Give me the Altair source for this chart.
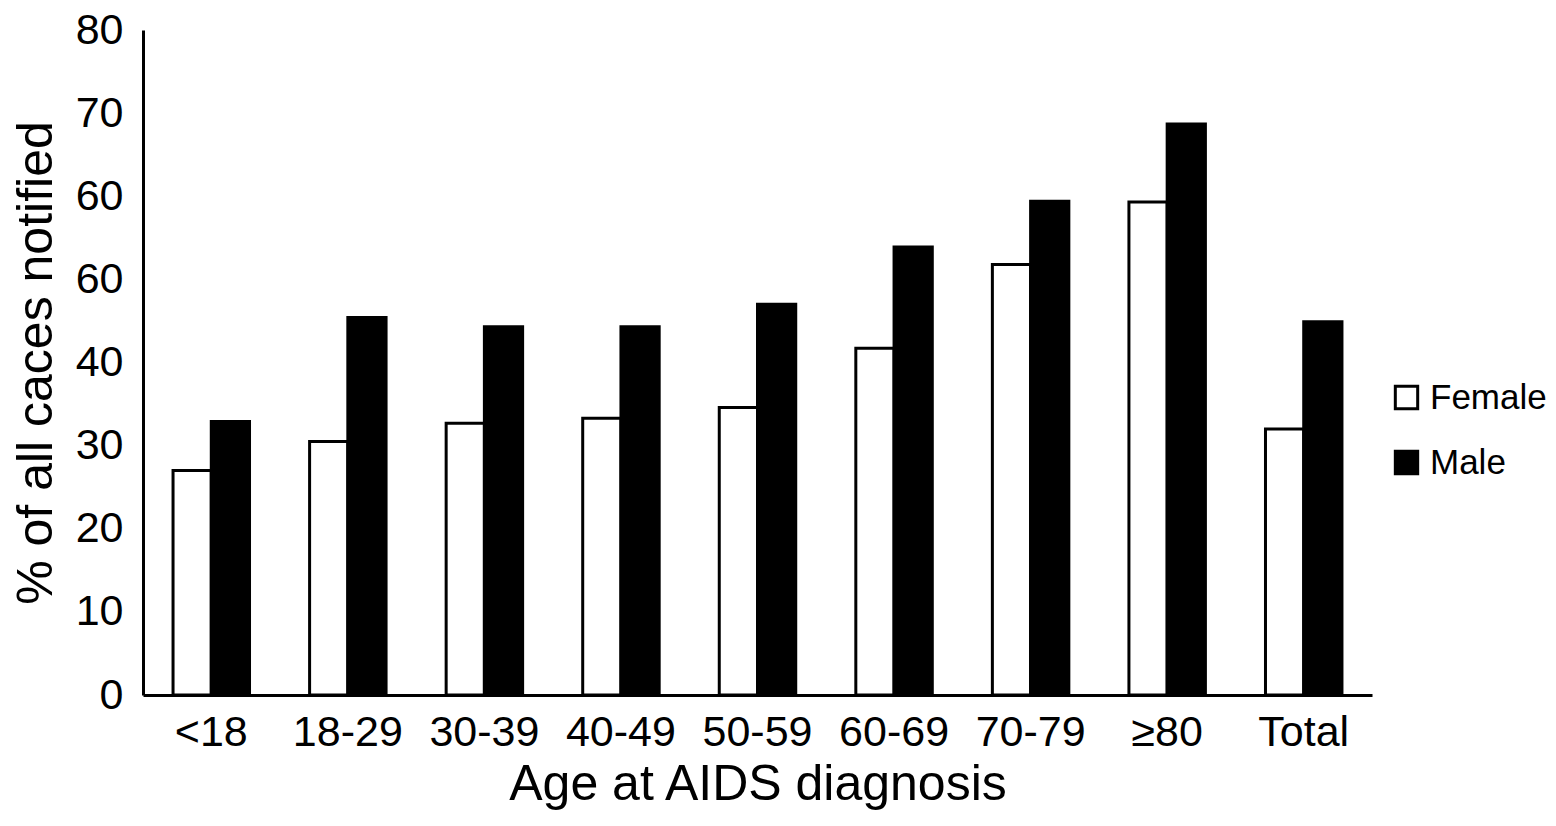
import altair as alt
import pandas as pd

categories = ["<18", "18-29", "30-39", "40-49", "50-59", "60-69", "70-79", "≥80", "Total"]
female = [27.0, 30.5, 32.7, 33.3, 34.6, 41.7, 51.8, 59.3, 32.0]
male = [32.9, 45.4, 44.3, 44.3, 47.0, 53.9, 59.4, 68.7, 44.9]
y_tick_values = [0, 10, 20, 30, 40, 50, 60, 70, 80]
y_tick_labels = ["0", "10", "20", "30", "40", "60", "60", "70", "80"]

rows = []
for c, f, m in zip(categories, female, male):
    rows.append({"age": c, "sex": "Female", "value": f})
    rows.append({"age": c, "sex": "Male", "value": m})
df = pd.DataFrame(rows)

label_map = "{" + ",".join(f"'{v}':'{l}'" for v, l in zip(y_tick_values, y_tick_labels)) + "}"

FONT = "Liberation Sans"

chart = alt.Chart(df).mark_bar(stroke="black", strokeWidth=3).encode(
    x=alt.X("age:N", sort=categories,
            scale=alt.Scale(paddingInner=0.44, paddingOuter=0.22),
            axis=alt.Axis(title="Age at AIDS diagnosis", labelAngle=0, ticks=False,
                          labelFontSize=43, titleFontSize=50, labelPadding=16,
                          titlePadding=5, domainWidth=3, domainColor="black",
                          labelColor="black", titleColor="black",
                          labelFont=FONT, titleFont=FONT, titleFontWeight="normal")),
    xOffset=alt.XOffset("sex:N", sort=["Female", "Male"]),
    y=alt.Y("value:Q", scale=alt.Scale(domain=[0, 80]),
            axis=alt.Axis(title="% of all caces notified", values=y_tick_values,
                          labelExpr=f"{label_map}[datum.value]",
                          ticks=False, grid=False, labelFontSize=43, titleFontSize=50,
                          labelPadding=20, titlePadding=14, domainWidth=3,
                          domainColor="black", labelColor="black", titleColor="black",
                          labelFont=FONT, titleFont=FONT, titleFontWeight="normal")),
    color=alt.Color("sex:N", sort=["Female", "Male"],
                    scale=alt.Scale(domain=["Female", "Male"], range=["white", "black"]),
                    legend=alt.Legend(title=None, orient="none", legendX=1246, legendY=350,
                                      symbolType="square", symbolSize=500,
                                      symbolStrokeColor="black", symbolStrokeWidth=3,
                                      labelFontSize=35, labelFont=FONT, labelColor="black",
                                      labelLimit=300,
                                      rowPadding=29, labelOffset=6)),
).properties(
    width=1229, height=665,
    autosize=alt.AutoSizeParams(type="none"),
    padding={"left": 135, "top": 22, "right": 174, "bottom": 118},
).configure_view(stroke=None).configure_axis(grid=False)

chart.save("out.html", embed_options={"renderer": "svg", "actions": False})
